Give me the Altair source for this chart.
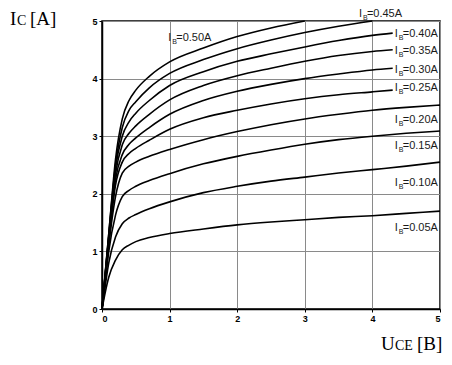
import altair as alt
import pandas as pd

# Base current values (A) for each characteristic curve
ib_values = ["0.05", "0.10", "0.15", "0.20", "0.25", "0.30", "0.35", "0.40", "0.45", "0.50"]

# Collector-emitter voltage (B) / collector current (A)
uce_005 = [0, 0.05, 0.1, 0.2, 0.3, 0.4, 0.5, 0.7, 1, 1.5, 2, 2.5, 3, 3.5, 4, 4.5, 5]
ic_005 = [0, 0.3, 0.55, 0.85, 1.03, 1.11, 1.17, 1.24, 1.31, 1.39, 1.46, 1.51, 1.55, 1.59, 1.62, 1.66, 1.70]

uce_010 = [0, 0.05, 0.1, 0.2, 0.3, 0.4, 0.5, 0.7, 1, 1.5, 2, 2.5, 3, 3.5, 4, 4.5, 5]
ic_010 = [0, 0.42, 0.8, 1.25, 1.48, 1.58, 1.64, 1.74, 1.86, 2.02, 2.13, 2.22, 2.29, 2.36, 2.42, 2.48, 2.55]

uce_015 = [0, 0.05, 0.1, 0.2, 0.3, 0.4, 0.5, 0.7, 1, 1.5, 2, 2.5, 3, 3.5, 4, 4.5, 5]
ic_015 = [0, 0.5, 1.0, 1.63, 1.95, 2.06, 2.13, 2.23, 2.35, 2.52, 2.65, 2.76, 2.86, 2.94, 3.0, 3.05, 3.09]

uce_020 = [0, 0.05, 0.1, 0.2, 0.3, 0.4, 0.5, 0.7, 1, 1.5, 2, 2.5, 3, 3.5, 4, 4.5, 5]
ic_020 = [0, 0.55, 1.1, 1.95, 2.36, 2.48, 2.55, 2.65, 2.77, 2.94, 3.08, 3.2, 3.3, 3.38, 3.45, 3.5, 3.54]

uce_025 = [0, 0.05, 0.1, 0.2, 0.3, 0.4, 0.5, 0.7, 1, 1.5, 2, 2.5, 3, 3.5, 4, 4.3]
ic_025 = [0, 0.58, 1.15, 2.15, 2.55, 2.7, 2.79, 2.93, 3.12, 3.32, 3.45, 3.56, 3.65, 3.72, 3.77, 3.80]

uce_030 = [0, 0.05, 0.1, 0.2, 0.3, 0.4, 0.5, 0.7, 1, 1.5, 2, 2.5, 3, 3.5, 4, 4.3]
ic_030 = [0, 0.6, 1.2, 2.25, 2.68, 2.86, 2.97, 3.15, 3.38, 3.62, 3.78, 3.9, 4.0, 4.08, 4.15, 4.18]

uce_035 = [0, 0.05, 0.1, 0.2, 0.3, 0.4, 0.5, 0.7, 1, 1.5, 2, 2.5, 3, 3.5, 4, 4.3]
ic_035 = [0, 0.62, 1.25, 2.35, 2.85, 3.05, 3.18, 3.38, 3.63, 3.88, 4.05, 4.18, 4.3, 4.4, 4.47, 4.5]

uce_040 = [0, 0.05, 0.1, 0.2, 0.3, 0.4, 0.5, 0.7, 1, 1.5, 2, 2.5, 3, 3.5, 4, 4.3]
ic_040 = [0, 0.63, 1.25, 2.45, 3.0, 3.25, 3.4, 3.62, 3.88, 4.12, 4.3, 4.43, 4.55, 4.66, 4.75, 4.79]

uce_045 = [0, 0.05, 0.1, 0.2, 0.3, 0.4, 0.5, 0.7, 1, 1.5, 2, 2.5, 3, 3.5, 4]
ic_045 = [0, 0.65, 1.3, 2.5, 3.15, 3.45, 3.6, 3.84, 4.09, 4.33, 4.52, 4.67, 4.8, 4.91, 5.0]

uce_050 = [0, 0.05, 0.1, 0.2, 0.3, 0.4, 0.5, 0.7, 1, 1.5, 2, 2.5, 3]
ic_050 = [0, 0.65, 1.3, 2.6, 3.3, 3.62, 3.8, 4.04, 4.29, 4.53, 4.73, 4.88, 5.0]

# Curve label anchors (data coordinates of the "I" of each label)
label_uce = [4.33, 4.33, 4.33, 4.33, 4.33, 4.33, 4.33, 4.33, 3.8, 0.98]
label_ic = [1.41, 2.19, 2.83, 3.28, 3.84, 4.15, 4.48, 4.77, 5.13, 4.70]

# Tick values
tick_values = [0, 0.5, 1, 1.5, 2, 2.5, 3, 3.5, 4, 4.5, 5]

series = [
    (uce_005, ic_005), (uce_010, ic_010), (uce_015, ic_015), (uce_020, ic_020),
    (uce_025, ic_025), (uce_030, ic_030), (uce_035, ic_035), (uce_040, ic_040),
    (uce_045, ic_045), (uce_050, ic_050),
]
rows = []
for ib, (xs_, ys_) in zip(ib_values, series):
    for i, (xv, yv) in enumerate(zip(xs_, ys_)):
        rows.append({"ib": ib, "uce": xv, "ic": yv, "ord": i})
df = pd.DataFrame(rows)

lab = pd.DataFrame({
    "uce": label_uce,
    "ic": label_ic,
    "rest": ["=" + v + "A" for v in ib_values],
})

grid_color = {"condition": {"test": "datum.value % 1 === 0", "value": "#8a8a8a"}, "value": "#d2d2d2"}
label_expr = "datum.value % 1 === 0 ? format(datum.value, 'd') : ''"

common_axis = dict(
    values=tick_values,
    labelExpr=label_expr,
    title=None,
    grid=True,
    gridColor=grid_color,
    gridWidth=1,
    domainColor="black",
    domainWidth=1.5,
    tickColor="black",
    tickSize=3,
    tickWidth=1,
    labelFont="Liberation Sans",
    labelFontWeight="bold",
    labelFontSize=9,
    labelColor="black",
    labelPadding=2,
)

xs = alt.Scale(domain=[0, 5], nice=False)
ys = alt.Scale(domain=[0, 5], nice=False)

lines = alt.Chart(df).mark_line(color="black", strokeWidth=1.6, interpolate="monotone").encode(
    x=alt.X("uce:Q", scale=xs, axis=alt.Axis(**common_axis)),
    y=alt.Y("ic:Q", scale=ys, axis=alt.Axis(**common_axis)),
    detail="ib:N",
    order="ord:Q",
)

txt_style = dict(font="Liberation Sans", color="#1a1a1a", align="left", baseline="middle")
lab_i = alt.Chart(lab).mark_text(fontSize=11, text="I", **txt_style).encode(
    x="uce:Q", y="ic:Q"
)
lab_b = alt.Chart(lab).mark_text(fontSize=7, text="B", dx=4, dy=4, **txt_style).encode(
    x="uce:Q", y="ic:Q"
)
lab_rest = alt.Chart(lab).mark_text(fontSize=11, dx=8, **txt_style).encode(
    x="uce:Q", y="ic:Q", text="rest:N"
)

one = alt.Data(values=[{}])
serif = "Liberation Serif"


def piece(txt, px, py, size):
    return alt.Chart(one).mark_text(text=txt, font=serif, fontSize=size, color="black",
                                    align="left", baseline="alphabetic").encode(
        x=alt.value(px), y=alt.value(py))


titles = [
    piece("I", -92, 4, 19), piece("C", -85, 4, 14), piece("[A]", -72, 4, 19),
    piece("U", 279, 329, 19), piece("CE", 293, 329, 14), piece("[B]", 315, 329, 19),
]

chart = alt.layer(lines, lab_i, lab_b, lab_rest, *titles).properties(
    width=338, height=288,
    autosize=alt.AutoSizeParams(type="none"),
    padding={"left": 94, "top": 13, "right": 4, "bottom": 47},
).configure_view(stroke="black", strokeWidth=1.5)

chart.save("out.html", embed_options={"renderer": "svg", "actions": False})
